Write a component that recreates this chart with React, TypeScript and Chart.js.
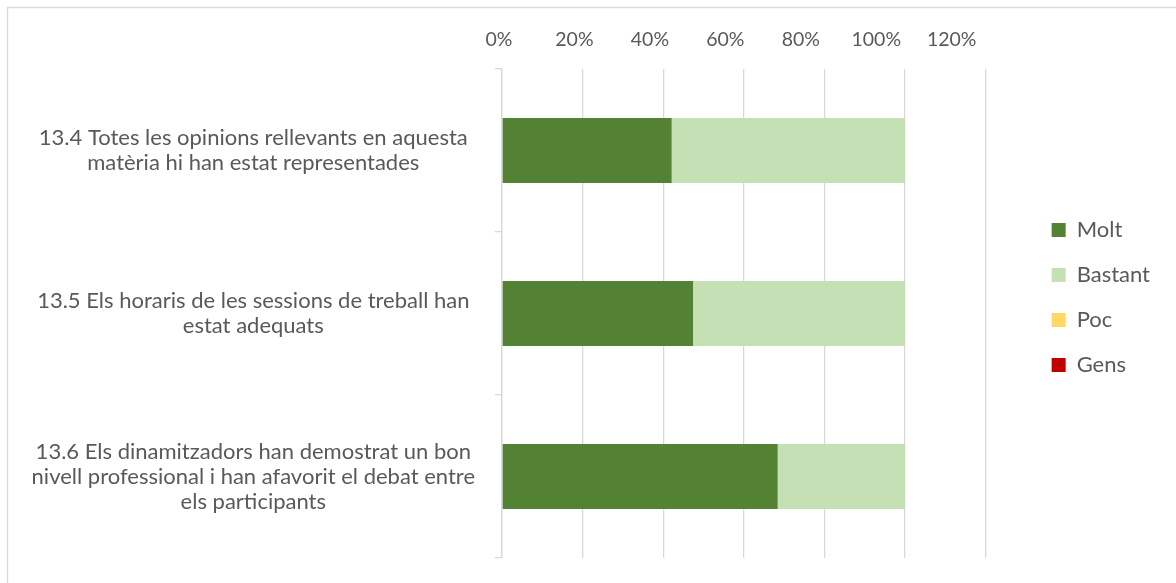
import { useEffect, useRef } from "react";
import { Chart, registerables } from "chart.js";

Chart.register(...registerables);

const categories = [
  ["13.4 Totes les opinions rellevants en aquesta", "matèria hi han estat representades"],
  ["13.5 Els horaris de les sessions de treball han", "estat adequats"],
  [
    "13.6 Els dinamitzadors han demostrat un bon",
    "nivell professional i han afavorit el debat entre",
    "els participants",
  ],
];
const seriesNames = ["Molt", "Bastant", "Poc", "Gens"];
const molt = [42.1, 47.4, 68.4];
const bastant = [57.9, 52.6, 31.6];
const poc = [0, 0, 0];
const gens = [0, 0, 0];
const tickValues = [0, 20, 40, 60, 80, 100, 120];
const seriesColors = ["#548235", "#C5E0B4", "#FFD966", "#C00000"];

const TEXT = "#595959";
const GRID = "#d9d9d9";

const framePlugin = {
  id: "frame",
  beforeDraw(chart: any) {
    const ctx = chart.ctx;
    ctx.save();
    ctx.strokeStyle = GRID;
    ctx.lineWidth = 1.3;
    ctx.beginPath();
    ctx.moveTo(7.5, 583);
    ctx.lineTo(7.5, 7.5);
    ctx.lineTo(1176, 7.5);
    ctx.stroke();
    ctx.restore();
  },
};

export default function App() {
  const ref = useRef<HTMLCanvasElement | null>(null);

  useEffect(() => {
    if (!ref.current) return;
    const values = [molt, bastant, poc, gens];
    const chart = new Chart(ref.current, {
      type: "bar",
      data: {
        labels: categories,
        datasets: seriesNames.map((name, i) => ({
          label: name,
          data: values[i],
          backgroundColor: seriesColors[i],
          borderWidth: 0,
          barPercentage: 0.4,
          categoryPercentage: 1,
          xAxisID: "x",
          yAxisID: "y",
        })),
      },
      options: {
        indexAxis: "y",
        animation: false,
        responsive: false,
        devicePixelRatio: 1,
        layout: { padding: { top: 12, right: 16, bottom: 0, left: 0 } },
        plugins: {
          tooltip: { enabled: false },
          legend: {
            position: "right",
            align: "center",
            labels: {
              boxWidth: 14,
              boxHeight: 14,
              padding: 23,
              color: TEXT,
              font: { family: "Lato", size: 22 },
            },
          },
        },
        scales: {
          x: {
            type: "linear",
            position: "bottom",
            stacked: true,
            min: 0,
            max: 120,
            ticks: { display: false, stepSize: 20 },
            grid: { color: GRID, lineWidth: 1.3, drawTicks: false },
            border: { display: false },
            afterFit: (s: any) => {
              s.height = 25;
            },
          },
          x2: {
            type: "linear",
            position: "top",
            display: true,
            min: 0.8,
            max: 129,
            grid: { display: false },
            border: { display: false },
            ticks: {
              color: TEXT,
              font: { family: "Lato", size: 19.5 },
              padding: 10,
              callback: (v: any) => v + "%",
            },
            afterBuildTicks: (s: any) => {
              s.ticks = tickValues.map((v) => ({ value: v }));
            },
            afterFit: (s: any) => {
              s.height = 57;
              s.paddingLeft = 0;
              s.paddingRight = 0;
            },
          },
          y: {
            type: "category",
            position: "left",
            stacked: true,
            ticks: {
              color: TEXT,
              font: { family: "Lato", size: 22, lineHeight: 25 / 22 },
              crossAlign: "center",
              padding: 20,
            },
            grid: {
              offset: true,
              drawOnChartArea: false,
              tickLength: 7,
              color: GRID,
              lineWidth: 1.3,
            },
            border: { color: GRID, width: 1.3 },
            afterFit: (s: any) => {
              s.width = 502;
              s.paddingTop = 0;
              s.paddingBottom = 0;
            },
          },
          yR: {
            type: "category",
            position: "right",
            display: true,
            ticks: { display: false },
            grid: { display: false, drawTicks: false },
            border: { display: false },
            afterFit: (s: any) => {
              s.width = 43;
              s.paddingTop = 0;
              s.paddingBottom = 0;
            },
          },
        },
      } as any,
      plugins: [framePlugin],
    });
    return () => chart.destroy();
  }, []);

  return (
    <div style={{ position: "fixed", left: 0, top: 0, width: 1176, height: 583, background: "#fff" }}>
      <canvas ref={ref} width={1176} height={583} />
    </div>
  );
}
